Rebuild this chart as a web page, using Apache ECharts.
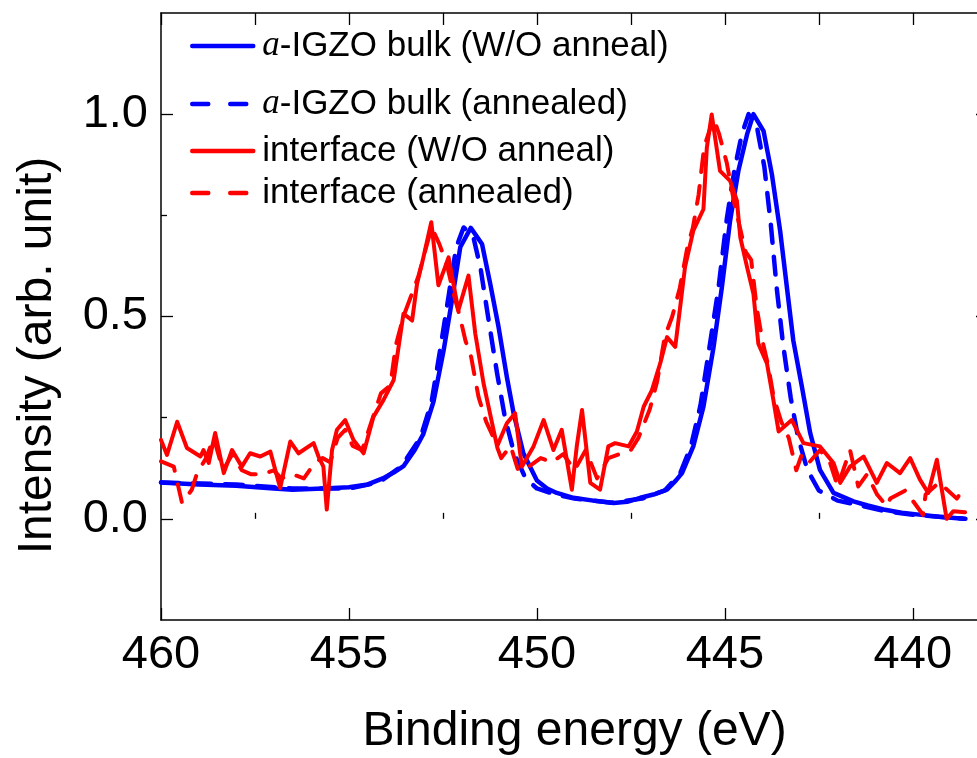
<!DOCTYPE html>
<html>
<head>
<meta charset="utf-8">
<script src="https://cdn.jsdelivr.net/npm/echarts@6/dist/echarts.min.js"></script>
<style>
  html, body { margin: 0; padding: 0; background: #ffffff; }
  #chart { width: 977px; height: 758px; }
</style>
</head>
<body>
<div id="chart"></div>
<script>
// In 3d core-level spectra: normalised intensity against binding energy (eV)

// a-IGZO bulk, without anneal: [binding energy, intensity]
const bulkAsDeposited = [
  [460, 0.09], [459, 0.085], [458, 0.082], [457, 0.075], [456.5, 0.072], [455.7, 0.075],
  [455, 0.078], [454.5, 0.085], [454.1, 0.1], [453.8, 0.115], [453.55, 0.13], [453.25, 0.17],
  [453.02, 0.21], [452.75, 0.29], [452.48, 0.417], [452.26, 0.54], [452.04, 0.671], [451.76, 0.719],
  [451.46, 0.679], [451.24, 0.58], [451.02, 0.474], [450.8, 0.351], [450.62, 0.261], [450.36, 0.162],
  [450.0, 0.095], [449.73, 0.075], [449.47, 0.064], [449.03, 0.052], [448.5, 0.045], [447.96, 0.039],
  [447.6, 0.042], [447.25, 0.052], [446.9, 0.06], [446.54, 0.072], [446.3, 0.095], [446.14, 0.113],
  [445.84, 0.179], [445.57, 0.277], [445.3, 0.425], [445.08, 0.572], [444.86, 0.737], [444.64, 0.86],
  [444.41, 0.95], [444.24, 1.0], [443.97, 0.958], [443.75, 0.852], [443.53, 0.712], [443.35, 0.572],
  [443.18, 0.441], [442.95, 0.326], [442.73, 0.212], [442.47, 0.121], [442.11, 0.064], [441.58, 0.043],
  [441.2, 0.033], [440.78, 0.023], [440.3, 0.015], [439.89, 0.011], [439.3, 0.005], [438.65, 0.0]
];

// a-IGZO bulk, annealed
const bulkAnnealed = [
  [460, 0.09], [458, 0.085], [456.5, 0.075], [455, 0.075], [454.2, 0.09], [453.6, 0.13],
  [453.1, 0.2], [452.8, 0.29], [452.57, 0.42], [452.35, 0.55], [452.15, 0.67], [451.95, 0.72],
  [451.7, 0.7], [451.5, 0.62], [451.3, 0.5], [451.06, 0.36], [450.85, 0.25], [450.6, 0.16],
  [450.3, 0.1], [450.0, 0.075], [449.5, 0.06], [449.0, 0.05], [448.0, 0.04], [447.2, 0.05],
  [446.6, 0.07], [446.2, 0.11], [445.9, 0.18], [445.65, 0.28], [445.4, 0.43], [445.17, 0.57],
  [444.95, 0.74], [444.75, 0.86], [444.55, 0.95], [444.37, 1.0], [444.15, 0.97], [443.95, 0.87],
  [443.78, 0.73], [443.62, 0.57], [443.45, 0.43], [443.25, 0.3], [443.05, 0.2], [442.8, 0.12],
  [442.5, 0.07], [442.0, 0.045], [441.5, 0.035], [440.8, 0.02], [440.0, 0.01], [438.6, 0.0]
];

// interface, without anneal
const interfaceAsDeposited = [
  [460, 0.195], [459.84, 0.158], [459.57, 0.24], [459.31, 0.175], [458.95, 0.154], [458.87, 0.17],
  [458.73, 0.138], [458.56, 0.212], [458.33, 0.113], [458.11, 0.17], [457.85, 0.129], [457.63, 0.162],
  [457.36, 0.154], [457.09, 0.166], [456.83, 0.076], [456.56, 0.191], [456.34, 0.162], [455.94, 0.187],
  [455.81, 0.154], [455.68, 0.129], [455.59, 0.023], [455.45, 0.17], [455.32, 0.22], [455.10, 0.244],
  [454.88, 0.195], [454.61, 0.162], [454.35, 0.252], [454.08, 0.294], [453.81, 0.343], [453.68, 0.425],
  [453.55, 0.507], [453.32, 0.49], [453.19, 0.58], [453.02, 0.646], [452.81, 0.733], [452.62, 0.577],
  [452.35, 0.646], [452.09, 0.515], [451.82, 0.601], [451.64, 0.458], [451.42, 0.335], [451.06, 0.179],
  [450.80, 0.236], [450.58, 0.261], [450.40, 0.129], [450.09, 0.179], [449.82, 0.244], [449.56, 0.17],
  [449.34, 0.22], [449.07, 0.072], [448.94, 0.179], [448.80, 0.269], [448.58, 0.089], [448.32, 0.072],
  [448.10, 0.179], [447.92, 0.187], [447.56, 0.179], [447.34, 0.216], [447.16, 0.277], [446.94, 0.318],
  [446.72, 0.384], [446.54, 0.449], [446.32, 0.425], [446.19, 0.523], [446.06, 0.622], [445.84, 0.712],
  [445.57, 0.765], [445.48, 0.917], [445.35, 0.999], [445.13, 0.86], [444.86, 0.835], [444.68, 0.786],
  [444.59, 0.696], [444.41, 0.622], [444.24, 0.556], [444.11, 0.433], [443.88, 0.384], [443.71, 0.294],
  [443.57, 0.216], [443.22, 0.244], [442.91, 0.187], [442.47, 0.179], [442.11, 0.138], [441.93, 0.089],
  [441.67, 0.129], [441.31, 0.154], [440.96, 0.089], [440.69, 0.138], [440.34, 0.113], [440.07, 0.15],
  [439.81, 0.097], [439.59, 0.064], [439.36, 0.146], [439.10, 0.0], [438.92, 0.019], [438.61, 0.016]
];

// interface, annealed
const interfaceAnnealed = [
  [460, 0.142], [459.66, 0.129], [459.44, 0.039], [459.18, 0.072], [459.04, 0.113], [458.8, 0.15],
  [458.6, 0.2], [458.35, 0.12], [458.1, 0.16], [457.85, 0.12], [457.6, 0.11], [457.3, 0.11],
  [457.0, 0.12], [456.8, 0.1], [456.5, 0.11], [456.2, 0.1], [455.9, 0.14], [455.7, 0.15],
  [455.5, 0.14], [455.3, 0.2], [455.1, 0.22], [454.9, 0.18], [454.65, 0.17], [454.4, 0.24],
  [454.15, 0.31], [453.9, 0.33], [453.75, 0.43], [453.55, 0.5], [453.35, 0.55], [453.15, 0.6],
  [452.95, 0.67], [452.8, 0.72], [452.6, 0.68], [452.4, 0.63], [452.2, 0.55], [452.05, 0.5],
  [451.9, 0.44], [451.75, 0.4], [451.55, 0.3], [451.35, 0.24], [451.15, 0.2], [450.95, 0.15],
  [450.7, 0.18], [450.5, 0.12], [450.2, 0.13], [449.9, 0.15], [449.6, 0.14], [449.3, 0.16],
  [449.0, 0.12], [448.7, 0.17], [448.4, 0.1], [448.1, 0.15], [447.8, 0.16], [447.5, 0.17],
  [447.3, 0.2], [447.0, 0.27], [446.8, 0.34], [446.6, 0.45], [446.4, 0.5], [446.2, 0.57],
  [446.0, 0.67], [445.85, 0.72], [445.7, 0.8], [445.55, 0.92], [445.3, 0.99], [445.15, 0.95],
  [444.95, 0.88], [444.75, 0.78], [444.6, 0.72], [444.45, 0.66], [444.3, 0.64], [444.15, 0.52],
  [444.0, 0.44], [443.85, 0.38], [443.7, 0.3], [443.5, 0.24], [443.3, 0.2], [443.1, 0.12],
  [442.95, 0.16], [442.75, 0.14], [442.47, 0.17], [442.2, 0.138], [442.0, 0.08], [441.67, 0.17],
  [441.45, 0.08], [441.22, 0.11], [440.95, 0.06], [440.69, 0.031], [440.6, 0.05], [440.2, 0.07],
  [439.73, 0.01], [439.66, 0.06], [439.3, 0.09], [438.83, 0.05], [438.61, 0.08]
];

const seriesNames = ['bulkAsDeposited', 'bulkAnnealed', 'interfaceAsDeposited', 'interfaceAnnealed'];
const legendTexts = [
  '{it|a}-IGZO bulk (W/O anneal)',
  '{it|a}-IGZO bulk (annealed)',
  'interface (W/O anneal)',
  'interface (annealed)'
];
const legendRowCenters = [46, 104, 151, 193];

const xMajorTicks = [440, 445, 450, 455, 460];
const xMinorTicks = [442.5, 447.5, 452.5, 457.5];
const yMajorTicks = [0, 0.5, 1.0];
const yMinorTicks = [0.25, 0.75];

const xTitle = 'Binding energy (eV)';
const yTitle = 'Intensity (arb. unit)';

const FONT = '"Liberation Sans", Arial, sans-serif';
const BLUE = '#0000ff';
const RED = '#ff0000';
const DASH = [18, 14];

const chart = echarts.init(document.getElementById('chart'), null, { renderer: 'canvas' });

const xBase = { type: 'value', inverse: true, min: 438, max: 460, splitLine: { show: false } };
const yBase = { type: 'value', min: -0.25, max: 1.25, splitLine: { show: false } };
const axisLine = { show: true, onZero: false, lineStyle: { color: '#000', width: 1.5 } };
const tickStyle = { color: '#000', width: 1.3 };

const legends = seriesNames.map((name, i) => ({
  data: [name],
  left: 190,
  top: legendRowCenters[i] - 20,
  padding: 0,
  itemWidth: 61,
  itemHeight: 14,
  selectedMode: false,
  formatter: () => legendTexts[i],
  // line-only legend samples: the point marker is hidden
  itemStyle: { color: 'rgba(0,0,0,0)', borderWidth: 0, opacity: 0 },
  lineStyle: { width: 4.5, type: i % 2 ? [16, 22] : 'solid', cap: 'round' },
  textStyle: {
    fontFamily: FONT,
    fontSize: 35,
    color: '#000',
    lineHeight: 40,
    padding: [0, 0, 0, 4],
    rich: {
      it: { fontFamily: '"Liberation Serif", "DejaVu Serif", serif', fontStyle: 'italic', fontSize: 35, color: '#000', lineHeight: 40 }
    }
  }
}));

function lineSeries(name, data, color, dashed, width) {
  return {
    name: name,
    type: 'line',
    data: data,
    xAxisIndex: 0,
    yAxisIndex: 0,
    symbol: 'none',
    smooth: false,
    animation: false,
    color: color,
    lineStyle: { color: color, width: width, type: dashed ? DASH : 'solid', cap: 'round', join: 'round' }
  };
}

chart.setOption({
  backgroundColor: '#ffffff',
  animation: false,
  legend: legends,
  grid: { left: 161, top: 13, right: -11, bottom: 138, containLabel: false, outerBoundsMode: 'none' },
  xAxis: [
    Object.assign({}, xBase, {
      position: 'bottom',
      axisLine: axisLine,
      axisTick: { show: true, inside: true, length: 12, customValues: xMajorTicks, lineStyle: tickStyle },
      axisLabel: { show: true, customValues: xMajorTicks, fontFamily: FONT, fontSize: 47, color: '#000', margin: 12 },
      name: xTitle,
      nameLocation: 'middle',
      nameGap: 88,
      nameTextStyle: { fontFamily: FONT, fontSize: 48, color: '#000' }
    }),
    Object.assign({}, xBase, {
      position: 'bottom',
      axisLine: { show: false },
      axisTick: { show: true, inside: true, length: 6, customValues: xMinorTicks, lineStyle: tickStyle },
      axisLabel: { show: false }
    }),
    Object.assign({}, xBase, {
      position: 'top',
      axisLine: axisLine,
      axisTick: { show: true, inside: true, length: 12, customValues: xMajorTicks.concat(xMinorTicks), lineStyle: tickStyle },
      axisLabel: { show: false }
    })
  ],
  yAxis: [
    Object.assign({}, yBase, {
      position: 'left',
      axisLine: axisLine,
      axisTick: { show: true, inside: true, length: 12, customValues: yMajorTicks, lineStyle: tickStyle },
      axisLabel: {
        show: true, customValues: yMajorTicks, fontFamily: FONT, fontSize: 47, color: '#000', margin: 13,
        formatter: v => v.toFixed(1)
      },
      name: yTitle,
      nameLocation: 'middle',
      nameGap: 99,
      nameTextStyle: { fontFamily: FONT, fontSize: 48, color: '#000', padding: [0, 78, 0, 0] }
    }),
    Object.assign({}, yBase, {
      position: 'left',
      axisLine: { show: false },
      axisTick: { show: true, inside: true, length: 6, customValues: yMinorTicks, lineStyle: tickStyle },
      axisLabel: { show: false }
    }),
    Object.assign({}, yBase, {
      position: 'right',
      axisLine: axisLine,
      axisTick: { show: true, inside: true, length: 12, customValues: yMajorTicks, lineStyle: tickStyle },
      axisLabel: { show: false }
    })
  ],
  series: [
    lineSeries(seriesNames[0], bulkAsDeposited, BLUE, false, 4.5),
    lineSeries(seriesNames[1], bulkAnnealed, BLUE, true, 4.5),
    lineSeries(seriesNames[2], interfaceAsDeposited, RED, false, 4),
    lineSeries(seriesNames[3], interfaceAnnealed, RED, true, 4)
  ]
});
</script>
</body>
</html>
